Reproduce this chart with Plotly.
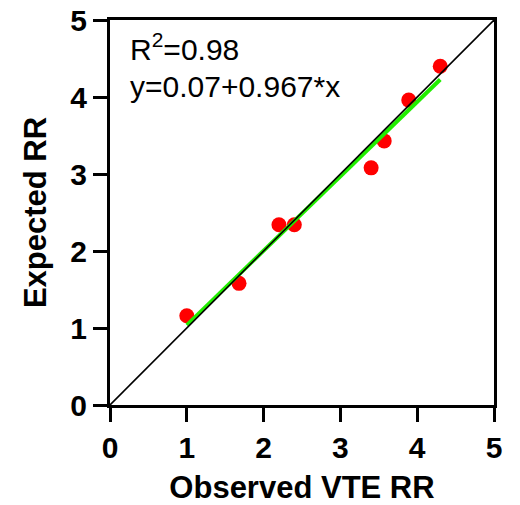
import plotly.graph_objects as go

observed = [1.00, 1.68, 2.20, 2.40, 3.40, 3.57, 3.89, 4.30]
expected = [1.16, 1.58, 2.34, 2.34, 3.08, 3.43, 3.96, 4.40]
intercept = 0.07
slope = 0.967
identity = [0, 5]
tick_vals = [0, 1, 2, 3, 4, 5]

FONT = "Arial, Liberation Sans, sans-serif"

fit_x = [min(observed), max(observed)]
fit_y = [intercept + slope * v for v in fit_x]

fig = go.Figure()
fig.add_trace(go.Scatter(x=observed, y=expected, mode="markers",
                         marker=dict(color="#ff0000", size=15, line=dict(width=0)),
                         showlegend=False))
fig.add_trace(go.Scatter(x=fit_x, y=fit_y, mode="lines",
                         line=dict(color="#22ee00", width=4), showlegend=False))
fig.add_trace(go.Scatter(x=identity, y=identity, mode="lines",
                         line=dict(color="black", width=1.6), showlegend=False))

axis_common = dict(range=[0, 5], tickvals=tick_vals, showgrid=False, zeroline=False,
                   showline=True, linecolor="black", linewidth=3, mirror=True,
                   ticks="outside", ticklen=14, tickwidth=3, tickcolor="black",
                   automargin=False,
                   tickfont=dict(family=FONT, size=30, color="black", weight="bold"))

fig.update_xaxes(**axis_common,
                 title=dict(text="<b>Observed VTE RR</b>",
                            font=dict(family=FONT, size=31, color="black")))
fig.update_yaxes(**axis_common,
                 title=dict(text="<b>Expected RR</b>",
                            font=dict(family=FONT, size=31, color="black")))

fig.add_annotation(x=0.24, y=4.65, xref="x", yref="y", xanchor="left", yanchor="middle",
                   text="R<sup>2</sup>=0.98", showarrow=False,
                   font=dict(family=FONT, size=30, color="black"))
fig.add_annotation(x=0.24, y=4.13, xref="x", yref="y", xanchor="left", yanchor="middle",
                   text="y=0.07+0.967*x", showarrow=False,
                   font=dict(family=FONT, size=30, color="black"))

fig.update_layout(width=520, height=505, margin=dict(l=110, r=26, t=20, b=100),
                  plot_bgcolor="white", paper_bgcolor="white")

fig.write_html("out.html", config={"displayModeBar": False},
               post_script="document.body.style.margin='0';document.body.style.overflow='hidden';")
